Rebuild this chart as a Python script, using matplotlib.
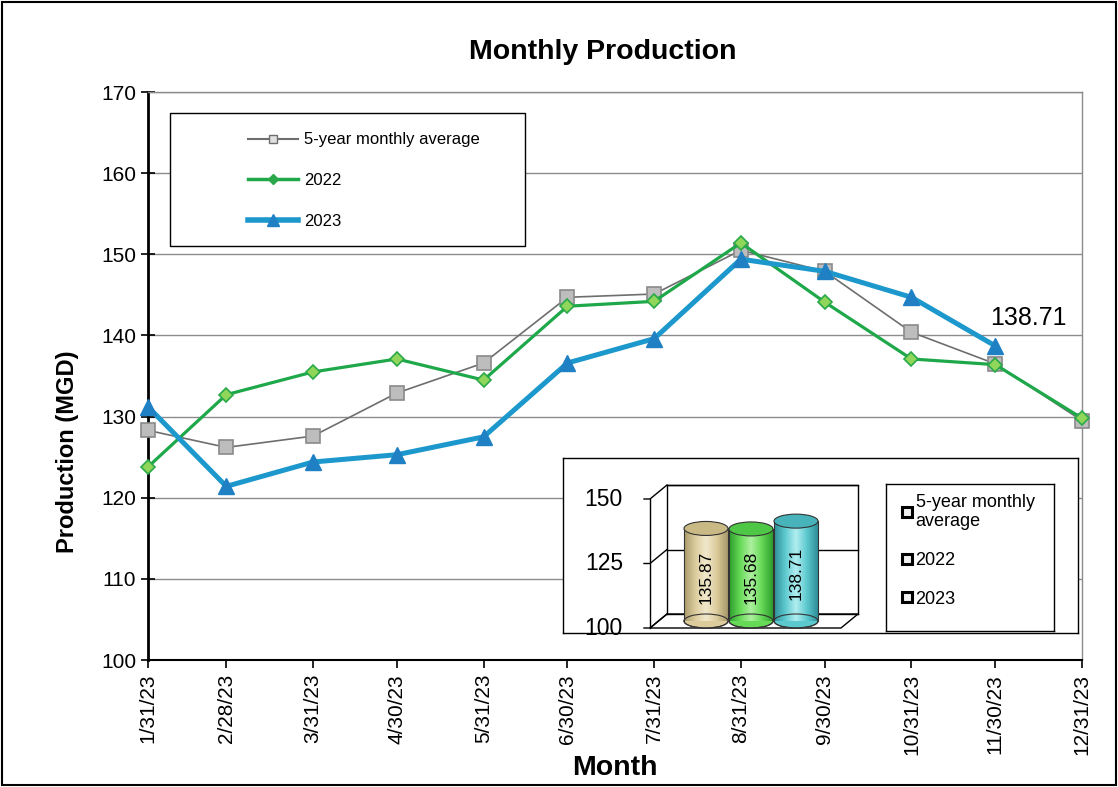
import numpy as np
import pandas as pd
import matplotlib
matplotlib.use("Agg")
import matplotlib.pyplot as plt
from matplotlib.lines import Line2D
from matplotlib.patches import Rectangle, Ellipse, Polygon
from matplotlib.colors import LinearSegmentedColormap

plt.rcParams['font.family'] = ['Liberation Sans', 'DejaVu Sans']

# data
months = ['1/31/23', '2/28/23', '3/31/23', '4/30/23', '5/31/23', '6/30/23',
          '7/31/23', '8/31/23', '9/30/23', '10/31/23', '11/30/23', '12/31/23']
avg_5yr = [128.3, 126.2, 127.6, 132.9, 136.6, 144.7, 145.1, 150.5, 147.9, 140.4, 136.5, 129.5]
prod_2022 = [123.8, 132.7, 135.5, 137.1, 134.5, 143.6, 144.2, 151.4, 144.1, 137.1, 136.4, 129.8]
prod_2023 = [131.2, 121.4, 124.4, 125.3, 127.5, 136.6, 139.6, 149.4, 147.9, 144.7, 138.71]

bar_labels = ['5-year monthly\naverage', '2022', '2023']
bar_values = [135.87, 135.68, 138.71]
inset_ticks = [100, 125, 150]

W, H = 1118, 787
dates = pd.to_datetime(months, format='%m/%d/%y')

fig = plt.figure(figsize=(W / 100, H / 100), dpi=100)
fig.patch.set_facecolor('white')
fig.patches.append(Rectangle((0.002, 0.003), 0.996, 0.994, transform=fig.transFigure,
                             fill=False, edgecolor='black', lw=1.5))


def fx(px):
    return px / W


def fy(py):
    return 1 - py / H


ax = fig.add_axes([fx(148), fy(660), fx(1082) - fx(148), fy(92) - fy(660)])

ax.plot(dates, avg_5yr, color='#6e6e6e', lw=1.2, marker='s', ms=10,
        mfc='#bdbdbd', mec='#8a8a8a', mew=1.2, zorder=3, clip_on=False)
ax.plot(dates, prod_2022, color='#1ea84a', lw=2.3, marker='D', ms=7.5,
        mfc='#8fd65a', mec='#2aa84a', mew=1.2, zorder=4, clip_on=False)
ax.plot(dates[:len(prod_2023)], prod_2023, color='#1d98cc', lw=3.6, marker='^', ms=11,
        mfc='#1f80c4', mec='#1f80c4', zorder=5, clip_on=False)
ax.annotate(f'{prod_2023[-1]:.2f}', (dates[len(prod_2023) - 1], prod_2023[-1]),
            xytext=(24, 20), textcoords='offset points', ha='center', va='center',
            fontsize=18)

ax.set_xlim(dates[0], dates[-1])
ax.set_ylim(100, 170)
ax.set_yticks(range(100, 171, 10))
ax.set_xticks(dates)
ax.set_xticklabels(months, rotation=90, fontsize=15)
ax.tick_params(axis='y', labelsize=15, direction='inout', length=10, width=1.2)
ax.tick_params(axis='x', direction='out', length=6, width=1.2, pad=4)
ax.grid(axis='y', color='#8c8c8c', lw=1.0)
ax.set_axisbelow(True)
for s in ['top', 'right']:
    ax.spines[s].set_color('#8c8c8c')
    ax.spines[s].set_linewidth(1.0)
ax.spines['left'].set_linewidth(2.0)
ax.spines['bottom'].set_linewidth(1.5)

ax.set_ylabel('Production (MGD)', fontsize=17, fontweight='bold')
ax.yaxis.set_label_coords(-0.074, 0.366)
ax.set_xlabel('Month', fontsize=20.5, fontweight='bold')
ax.xaxis.set_label_coords(0.5, -0.168)
fig.text(fx(603), fy(52), 'Monthly Production', fontsize=20.5, fontweight='bold',
         ha='center', va='center')

# main legend
ax.add_patch(Rectangle((fx(170), fy(246)), fx(525) - fx(170), fy(113) - fy(246),
                       transform=fig.transFigure, facecolor='white', edgecolor='black',
                       lw=1.0, zorder=6))
handles = [
    Line2D([], [], color='#6e6e6e', lw=1.5, marker='s', ms=6, mfc='#e0e0e0', mec='#6e6e6e'),
    Line2D([], [], color='#1ea84a', lw=2.5, marker='D', ms=5, mfc='#2aa84a', mec='#2aa84a'),
    Line2D([], [], color='#1d98cc', lw=4, marker='^', ms=8, mfc='#1f80c4', mec='#1f80c4'),
]
leg = ax.legend(handles, ['5-year monthly average', '2022', '2023'], loc='upper left',
                bbox_to_anchor=(fx(240), fy(124)), bbox_transform=fig.transFigure,
                frameon=False, fontsize=12, handlelength=3.0, handletextpad=0.35,
                labelspacing=1.55, borderpad=0)
leg.set_zorder(7)

# inset with cylinders
ix0, iy0, ix1, iy1 = 563, 458, 1078, 633
ax_in = fig.add_axes([fx(ix0), fy(iy1), fx(ix1) - fx(ix0), fy(iy0) - fy(iy1)])
ax_in.set_facecolor('white')
for s in ax_in.spines.values():
    s.set_color('black')
    s.set_linewidth(1.0)
ax_in.set_xticks([])
ax_in.set_yticks([])
ppu = 129 / 50  # pixels per value unit
base = inset_ticks[0]

fl, fr = 87, 278   # front left / right
dx, dz = 17, 14 / ppu
top = inset_ticks[-1]
# back wall & floor
ax_in.add_patch(Polygon([(fl, base), (fr, base), (fr + dx, base + dz), (fl + dx, base + dz)],
                        closed=True, facecolor='white', edgecolor='black', lw=1.0))
ax_in.plot([fl + dx, fl + dx, fr + dx, fr + dx], [base + dz, top + dz, top + dz, base + dz],
           color='black', lw=1.0)
ax_in.plot([fl, fl], [base, top], color='black', lw=1.0)
for t in inset_ticks:
    ax_in.plot([fl - 6, fl, fl + dx], [t, t, t + dz], color='black', lw=1.0)
    ax_in.plot([fl + dx, fr + dx], [t + dz, t + dz], color='black', lw=1.0)
    ax_in.text(60, t, str(t), ha='right', va='center', fontsize=16.5)

cyl_x = [143, 188, 233]
cyl_w = 44
ell_h = 14 / ppu
body_cols = ['#dccc9c', '#66d957', '#5cc9cf']
dark_cols = ['#a89a6c', '#2f9f2f', '#2f8f98']
light_cols = ['#f1e8cc', '#aef0a0', '#b2eef0']
top_cols = ['#c9b985', '#4fc746', '#48b3bb']
grad = np.linspace(0, 1, 64).reshape(1, -1)
for cx, v, bc, dc, lc, tc in zip(cyl_x, bar_values, body_cols, dark_cols, light_cols, top_cols):
    b0 = base + dz / 2
    t0 = v + dz / 2
    cmap = LinearSegmentedColormap.from_list('cyl', [dc, bc, lc, bc, dc])
    ax_in.add_patch(Ellipse((cx, b0), cyl_w, ell_h, facecolor=bc, edgecolor='#333333', lw=0.8))
    im = ax_in.imshow(grad, extent=[cx - cyl_w / 2, cx + cyl_w / 2, b0, t0], aspect='auto',
                      cmap=cmap, zorder=2)
    ax_in.add_patch(Ellipse((cx, b0), cyl_w, ell_h, facecolor='none', edgecolor='#333333',
                            lw=0.8, zorder=2.1))
    ax_in.plot([cx - cyl_w / 2, cx - cyl_w / 2], [b0, t0], color='#333333', lw=0.8, zorder=2.1)
    ax_in.plot([cx + cyl_w / 2, cx + cyl_w / 2], [b0, t0], color='#333333', lw=0.8, zorder=2.1)
    ax_in.add_patch(Ellipse((cx, t0), cyl_w, ell_h, facecolor=tc, edgecolor='#333333', lw=0.8,
                            zorder=2.2))
    ax_in.text(cx, (b0 + t0) / 2 - 1, f'{v:.2f}', rotation=90, ha='center', va='center',
               fontsize=12.5, zorder=3)

ax_in.set_xlim(0, ix1 - ix0)
ax_in.set_ylim(base - (iy1 - 628) / ppu, base + (628 - iy0) / ppu)

# inset legend
lax = fig.add_axes([fx(886), fy(631), fx(1054) - fx(886), fy(484) - fy(631)])
lax.set_xticks([])
lax.set_yticks([])
for s in lax.spines.values():
    s.set_color('black')
    s.set_linewidth(1.0)
lh = [Line2D([], [], lw=0, marker='s', ms=7, mfc='#f0f0f0', mec='black', mew=2.2)
      for c in body_cols]
lax.legend(lh, bar_labels, loc='upper left', bbox_to_anchor=(0.02, 1.02), frameon=False,
           fontsize=13, handlelength=0.6, handletextpad=0.15, labelspacing=1.2,
           borderpad=0.2)

fig.savefig('out.png', dpi=100)
